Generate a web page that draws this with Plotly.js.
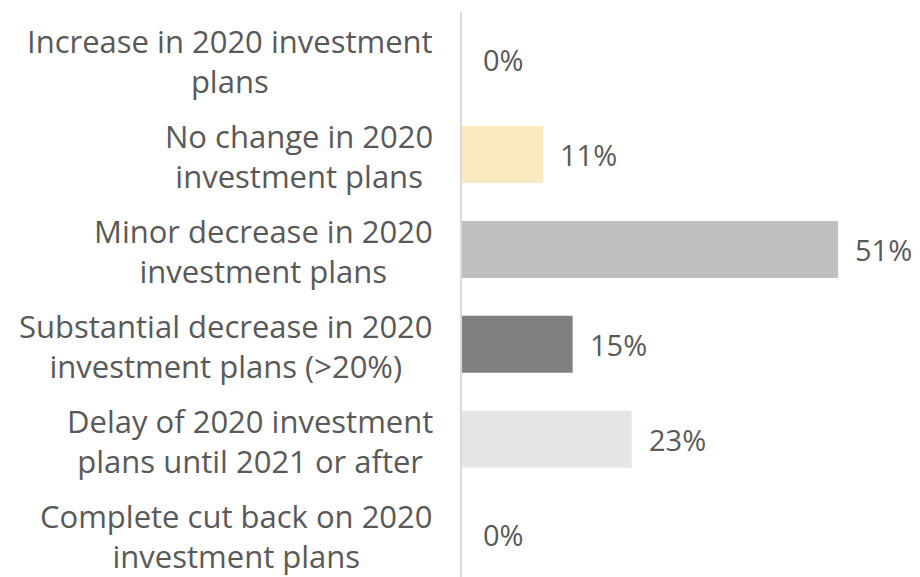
<!DOCTYPE html>
<html>
<head>
<meta charset="utf-8">
<script src="https://cdn.plot.ly/plotly-3.0.1.min.js"></script>
<style>html,body{margin:0;padding:0;background:#fff;}#chart{width:920px;height:577px;}</style>
</head>
<body>
<div id="chart"></div>
<script>
var categories = [
  "Increase in 2020 investment<br>plans",
  "No change in 2020<br>investment plans",
  "Minor decrease in 2020<br>investment plans",
  "Substantial decrease in 2020<br>investment plans (>20%)",
  "Delay of 2020 investment<br>plans until 2021 or after",
  "Complete cut back on 2020<br>investment plans"
];
var values = [0, 11, 51, 15, 23, 0];
var valueLabels = ["0%", "11%", "51%", "15%", "23%", "0%"];
var barColors = ["#FBE6BE", "#FCE9C2", "#BFBFBF", "#7F7F7F", "#E6E6E6", "#D9D9D9"];

var textColor = "#595959";
var fontFamily = "Open Sans, sans-serif";

var annotations = [];
categories.forEach(function (c, i) {
  annotations.push({
    xref: "paper", yref: "y", x: 0, y: c,
    xanchor: "right", yanchor: "middle", xshift: -27, yshift: -2,
    align: "center", showarrow: false, text: c,
    font: {family: fontFamily, size: 31, color: textColor}
  });
  annotations.push({
    xref: "x", yref: "y", x: values[i], y: c,
    xanchor: "left", yanchor: "middle", xshift: values[i] > 0 ? 15 : 19,
    showarrow: false, text: valueLabels[i],
    font: {family: fontFamily, size: 29, color: textColor}
  });
});

var trace = {
  type: "bar", orientation: "h",
  x: values, y: categories,
  marker: {color: barColors, line: {width: 0}},
  hoverinfo: "none"
};

var layout = {
  width: 920, height: 577,
  margin: {l: 462, r: 0, t: 12, b: 0},
  paper_bgcolor: "#ffffff", plot_bgcolor: "#ffffff",
  showlegend: false,
  bargap: 0.4,
  xaxis: {range: [0, 62.1], showgrid: false, zeroline: false, showticklabels: false, showline: false, ticks: ""},
  yaxis: {type: "category", categoryorder: "array", categoryarray: categories,
          range: [5.45, -0.5], showticklabels: false, showgrid: false, zeroline: false,
          showline: true, linecolor: "#D9D9D9", linewidth: 2, ticks: ""},
  annotations: annotations
};

Plotly.newPlot("chart", [trace], layout, {displayModeBar: false, staticPlot: true});
</script>
</body>
</html>
